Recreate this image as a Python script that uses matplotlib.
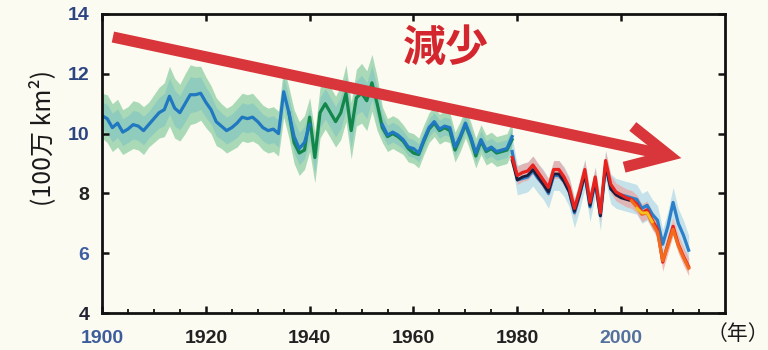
import numpy as np
import matplotlib
matplotlib.use("Agg")
import matplotlib.pyplot as plt

# ---------------- data ----------------
years_hist = list(range(1900, 1980))
blue_hist = [10.6, 10.5, 10.2, 10.35, 10.05, 10.15, 10.3, 10.25, 10.1, 10.3,
             10.5, 10.7, 10.8, 11.25, 10.85, 10.7, 11.0, 11.3, 11.3, 11.35,
             11.05, 10.8, 10.4, 10.25, 10.1, 10.2, 10.35, 10.55, 10.5, 10.55,
             10.4, 10.2, 10.1, 10.15, 10.0, 11.4, 10.7, 9.9, 9.5, 9.7,
             10.3, None, None, None, None, None, None, None, None, None,
             None, None, None, None, 10.3, 9.95, 10.05, 9.95, 9.8, 9.55,
             9.5, 9.35, 9.8, 10.2, 10.4, 10.15, 10.25, 10.2, 9.55, 9.9,
             10.35, 9.9, 9.35, 9.8, 9.45, 9.55, 9.4, 9.45, 9.5, 9.9]
unc_hist = [0.75, 0.8, 0.8, 0.8, 0.75, 0.75, 0.8, 0.8, 0.8, 0.75,
            0.8, 0.85, 0.9, 1.0, 1.0, 0.95, 1.0, 1.0, 0.95, 0.9,
            0.85, 0.8, 0.8, 0.75, 0.75, 0.75, 0.8, 0.8, 0.8, 0.8,
            0.75, 0.75, 0.75, 0.75, 0.75, 0.85, 0.85, 0.9, 0.9, 0.9,
            0.9, 0.85, 0.85, 0.85, 0.85, 0.85, 0.9, 0.95, 0.95, 0.95,
            1.0, 1.0, 0.95, 0.9, 0.6, 0.55, 0.55, 0.55, 0.5, 0.5,
            0.5, 0.5, 0.5, 0.5, 0.5, 0.5, 0.5, 0.5, 0.5, 0.5,
            0.5, 0.5, 0.5, 0.5, 0.5, 0.5, 0.5, 0.5, 0.5, 0.5]

years_green = list(range(1936, 1980))
green_hist = [10.7, 9.7, 9.35, 9.45, 10.55, 9.2, 10.7, 11.0, 10.7, 10.4,
              10.7, 11.35, 10.1, 11.2, 11.35, 11.1, 11.7, 11.0, 10.2, 9.9,
              10.0, 9.9, 9.75, 9.5, 9.35, 9.3, 9.75, 10.15, 10.35, 10.1,
              10.2, 10.1, 9.45, 9.85, 10.3, 9.85, 9.25, 9.75, 9.4, 9.5,
              9.35, 9.4, 9.45, 9.8]

years_sat = list(range(1979, 2014))
red_sat = [9.2, 8.6, 8.7, 8.75, 8.95, 8.7, 8.45, 8.2, 8.8, 8.8,
           8.55, 8.2, 7.5, 8.1, 8.8, 7.7, 8.55, 7.35, 9.1, 8.3,
           8.05, 7.95, 7.85, 7.8, 7.65, 7.35, 7.45, 7.1, 6.8, 5.7,
           6.3, 6.9, 6.3, 5.9, 5.55]
blue_sat = [9.4, 8.45, 8.5, 8.55, 8.75, 8.5, 8.3, 8.0, 8.6, 8.6,
            8.4, 8.05, 7.35, 7.95, 8.65, 7.55, 8.4, 7.25, 8.95, 8.15,
            8.0, 7.95, 7.9, 7.85, 7.8, 7.5, 7.6, 7.3, 7.1, 6.3,
            6.9, 7.7, 7.0, 6.6, 6.1]
years_black = list(range(1979, 2004))
black_sat = [9.1, 8.45, 8.55, 8.6, 8.8, 8.55, 8.3, 8.05, 8.65, 8.65,
             8.4, 8.05, 7.4, 7.95, 8.65, 7.6, 8.4, 7.25, 8.95, 8.15,
             7.95, 7.85, 7.8, 7.75, 7.6]
years_orange = list(range(2002, 2014))
orange_sat = [7.75, 7.55, 7.3, 7.35, 7.0, 6.7, 5.75, 6.25, 6.8, 6.25, 5.85, 5.5]
years_yellow = list(range(2003, 2007))
yellow_sat = [7.5, 7.35, 7.35, 7.05]
unc_red = 0.3
unc_blue = 0.5

xticks = [1900, 1920, 1940, 1960, 1980, 2000]
yticks = [4, 6, 8, 10, 12, 14]
xtick_colors = ["#3d5c9c", "#222222", "#222222", "#222222", "#222222", "#55709e"]
ytick_colors = ["#222233", "#3d5fa0", "#222222", "#2c4580", "#2c4580", "#2c4580"]

arrow_start = (1902.1, 13.23)
arrow_end = (2011.6, 9.18)
label_pos = (1966.3, 12.86)

# ---------------- drawing ----------------
BG = "#fcfbf1"
fig = plt.figure(figsize=(7.68, 3.5), dpi=100)
fig.patch.set_facecolor(BG)
ax = fig.add_axes([0.1328, 0.1057, 0.8112, 0.8543])
ax.set_facecolor(BG)

yh = np.array(years_hist, dtype=float)
bh = np.array([np.nan if v is None else v for v in blue_hist], dtype=float)
gmap = dict(zip(years_green, green_hist))
centre = np.array([b if not np.isnan(b) else gmap.get(int(y), np.nan) for y, b in zip(yh, bh)])
uh = np.array(unc_hist)

ax.fill_between(yh, centre - uh, centre + uh, color="#9bd4ad", alpha=0.85, lw=0, zorder=1)
ax.fill_between(yh, centre - uh * 0.6, centre + uh * 0.6, color="#7cc2c2", alpha=0.55, lw=0, zorder=1.1)

ys = np.array(years_sat, dtype=float)
rs = np.array(red_sat)
bs = np.array(blue_sat)
ax.fill_between(ys, bs - unc_blue, bs + unc_blue, color="#bfe0ea", alpha=0.9, lw=0, zorder=1.2)
ax.fill_between(ys, rs - unc_red, rs + unc_red, color="#eca3a0", alpha=0.7, lw=0, zorder=1.3)

ax.plot(years_green, green_hist, color="#13864a", lw=2.3, zorder=2)
ax.plot(yh, bh, color="#1f78c0", lw=2.3, zorder=2.1)
ax.plot(ys, bs, color="#2a7fc8", lw=2.3, zorder=2.2)
ax.plot(years_black, black_sat, color="#1d1d3a", lw=2.0, zorder=2.3)
ax.plot(ys, rs, color="#e8231e", lw=2.3, zorder=2.4)
ax.plot(years_orange, orange_sat, color="#f26a1b", lw=2.3, zorder=2.5)
ax.plot(years_yellow, yellow_sat, color="#f4c21a", lw=2.0, zorder=2.6)

ax.annotate("", xy=arrow_end, xytext=arrow_start,
            arrowprops=dict(arrowstyle="->,head_length=3.0,head_width=1.5",
                            lw=8, color="#d8363a", shrinkA=0, shrinkB=0,
                            capstyle="butt", joinstyle="miter"),
            zorder=5)
ax.text(label_pos[0], label_pos[1], "減少", color="#d4262e", fontsize=31,
        fontweight="bold", family=["Noto Sans CJK JP", "DejaVu Sans"],
        ha="center", va="center", zorder=6)

ax.set_xlim(1900, 2020)
ax.set_ylim(4, 14)
ax.set_xticks(xticks)
ax.set_xticks(np.arange(1905, 2020, 5), minor=True)
ax.set_yticks(yticks)
tick_font = dict(family=["Liberation Sans Narrow", "Liberation Sans", "DejaVu Sans"],
                 fontweight="bold", fontsize=14)
ax.set_xticklabels([str(t) for t in xticks], **tick_font)
ax.set_yticklabels([str(t) for t in yticks], **tick_font)
for lab, c in zip(ax.get_xticklabels(), xtick_colors):
    lab.set_color(c)
for lab, c in zip(ax.get_yticklabels(), ytick_colors):
    lab.set_color(c)
ax.tick_params(which="major", direction="in", length=5, width=1.8,
               top=True, right=True, color="#111111")
ax.tick_params(axis="x", which="major", pad=12)
ax.tick_params(axis="y", which="major", pad=9)
ax.tick_params(which="minor", direction="in", length=3, width=1.3,
               top=False, right=False, color="#111111")
for s in ax.spines.values():
    s.set_linewidth(2.0)
    s.set_color("#111111")

fig.text(0.055, 0.605, "(100万 km²)", rotation=90, ha="center", va="center",
         fontsize=18, color="#1a1a1a", family=["Noto Sans CJK JP", "DejaVu Sans"])
fig.text(0.961, 0.045, "（年）", ha="center", va="center", fontsize=15,
         color="#1a1a1a", family=["Noto Sans CJK JP", "DejaVu Sans"])

fig.savefig("out.png", dpi=100, facecolor=BG)
